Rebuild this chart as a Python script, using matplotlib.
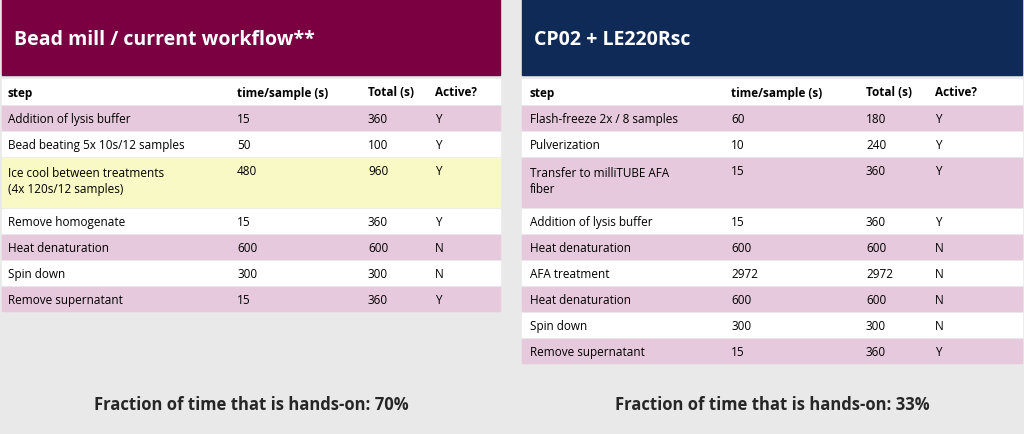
import matplotlib.pyplot as plt
from matplotlib.patches import Rectangle

plt.rcParams['font.family'] = ['Open Sans', 'DejaVu Sans']

cols = ["step", "time/sample (s)", "Total (s)", "Active?"]

left_title = "Bead mill / current workflow**"
left_steps = ["Addition of lysis buffer", "Bead beating 5x 10s/12 samples",
              "Ice cool between treatments\n(4x 120s/12 samples)", "Remove homogenate",
              "Heat denaturation", "Spin down", "Remove supernatant"]
left_time = [15, 50, 480, 15, 600, 300, 15]
left_total = [360, 100, 960, 360, 600, 300, 360]
left_active = ["Y", "Y", "Y", "Y", "N", "N", "Y"]
left_fill = ["#e6c9dd", "#ffffff", "#f9f9c6", "#ffffff", "#e6c9dd", "#ffffff", "#e6c9dd"]
left_frac = "Fraction of time that is hands-on: 70%"

right_title = "CP02 + LE220Rsc"
right_steps = ["Flash-freeze 2x / 8 samples", "Pulverization", "Transfer to milliTUBE AFA\nfiber",
               "Addition of lysis buffer", "Heat denaturation", "AFA treatment",
               "Heat denaturation", "Spin down", "Remove supernatant"]
right_time = [60, 10, 15, 15, 600, 2972, 600, 300, 15]
right_total = [180, 240, 360, 360, 600, 2972, 600, 300, 360]
right_active = ["Y", "Y", "Y", "Y", "N", "N", "N", "N", "Y"]
right_fill = ["#e6c9dd", "#ffffff", "#e6c9dd", "#ffffff", "#e6c9dd", "#ffffff", "#e6c9dd", "#ffffff", "#e6c9dd"]
right_frac = "Fraction of time that is hands-on: 33%"

fig = plt.figure(figsize=(10.24, 4.35), dpi=100)
ax = fig.add_axes([0, 0, 1, 1])
ax.set_xlim(0, 1024)
ax.set_ylim(435, 0)
ax.axis('off')
fig.patch.set_facecolor("#e9e9e9")


def panel(x0, x1, title, tcolor, steps, tm, tot, act, fills, frac, colx):
    ax.add_patch(Rectangle((x0, 0), x1 - x0, 76, color=tcolor))
    ax.text(x0 + 12, 40, title, color="white", fontsize=14, fontweight="bold", va="center")
    ax.add_patch(Rectangle((x0, 80), x1 - x0, 25, color="white"))
    for c, lab in zip(colx, cols):
        ax.text(x0 + c, 93, lab, fontsize=8.5, fontweight="bold", va="center")
    y = 107
    for s, t, T, a, f in zip(steps, tm, tot, act, fills):
        h = 50 if "\n" in s else 25
        ax.add_patch(Rectangle((x0, y), x1 - x0, h - 1, color=f))
        ax.text(x0 + colx[0], y + 8 if h > 25 else y + h / 2, s, fontsize=8.5,
                va="top" if h > 25 else "center", linespacing=1.3)
        for c, v in zip(colx[1:], [t, T, a]):
            ax.text(x0 + c, y + (13 if h > 25 else h / 2), str(v), fontsize=8.5, va="center")
        y += h + 1
    ax.text((x0 + x1) / 2, 405, frac, fontsize=12, fontweight="bold", ha="center", va="center",
            color="#262626")


panel(2, 500, left_title, "#7b0041", left_steps, left_time, left_total, left_active,
      left_fill, left_frac, [6, 235, 366, 433])
panel(522, 1022, right_title, "#0f2a56", right_steps, right_time, right_total, right_active,
      right_fill, right_frac, [8, 209, 344, 413])

fig.savefig("out.png", dpi=100, facecolor=fig.get_facecolor())
